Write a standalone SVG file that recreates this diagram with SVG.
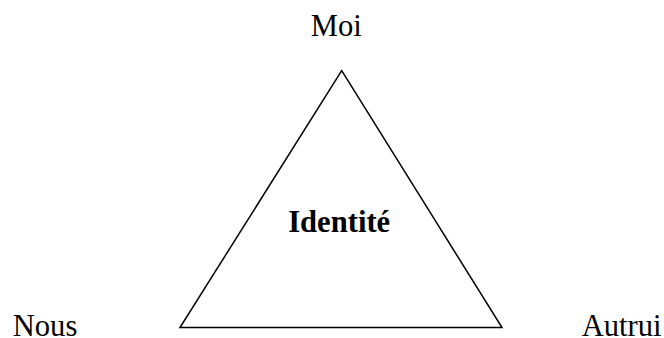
<svg xmlns="http://www.w3.org/2000/svg" width="664" height="338" viewBox="0 0 664 338">
<style>
text{font-family:"Liberation Serif","Times New Roman",serif;font-size:30.6px;fill:#000}
.b{font-weight:bold}
</style>
<rect width="664" height="338" fill="#fff"/>
<g id="connectors">
<polygon points="341.7,70.7 180,327.5 502,327.5" fill="none" stroke="#000" stroke-width="1.5" stroke-linejoin="miter"/>
</g>
<g id="moi"><text x="336.2" y="36" text-anchor="middle">Moi</text></g>
<g id="nous"><text x="12.7" y="336">Nous</text></g>
<g id="autrui"><text x="581.7" y="336">Autrui</text></g>
<g id="identite"><text class="b" x="339.2" y="231.7" text-anchor="middle">Identité</text></g>
</svg>
